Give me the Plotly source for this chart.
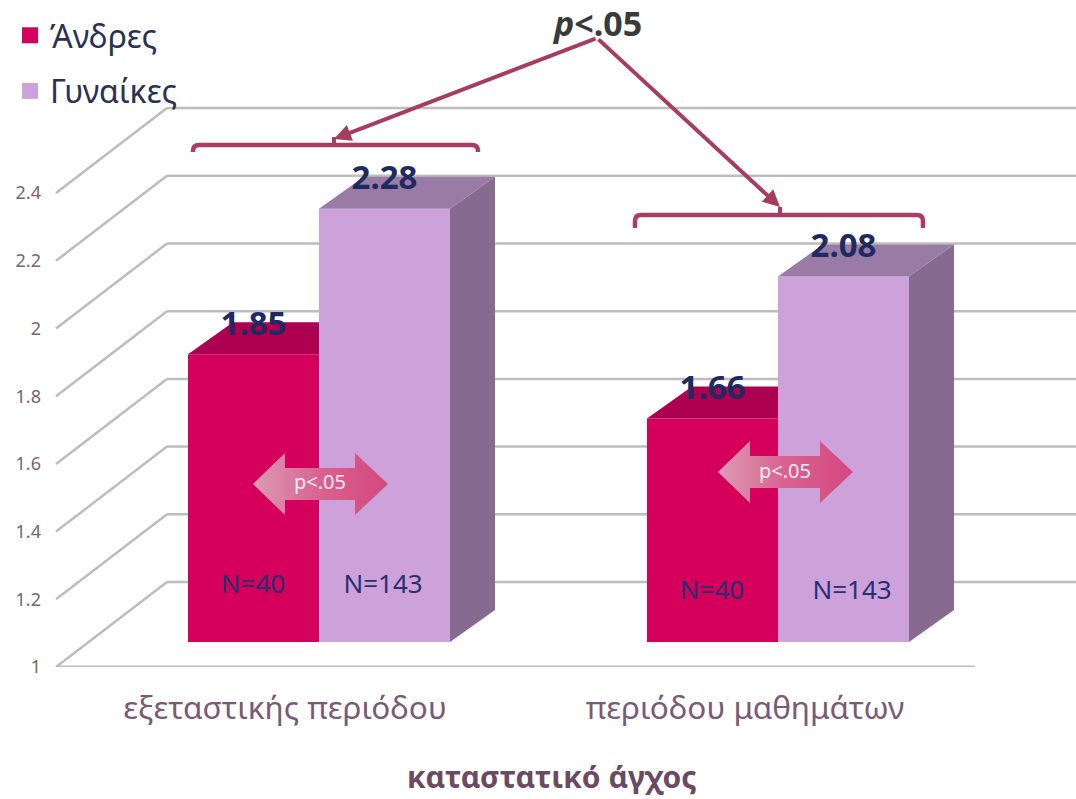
import plotly.graph_objects as go

# ---- data ----
categories = ["εξεταστικής περιόδου", "περιόδου μαθημάτων"]
men_values = [1.85, 1.66]
women_values = [2.28, 2.08]
men_n = ["N=40", "N=40"]
women_n = ["N=143", "N=143"]
y_ticks = [1, 1.2, 1.4, 1.6, 1.8, 2, 2.2, 2.4]
y_tick_labels = ["1", "1.2", "1.4", "1.6", "1.8", "2", "2.2", "2.4"]

W, H = 1076, 799
L, B = 42, 132
FONT = "Noto Sans"
INK = "#1f2a60"
MEN, MEN_TOP = "#d5005c", "#ad0050"
WOMEN, WOMEN_TOP, WOMEN_SIDE = "#cda1da", "#9a7ba6", "#866a90"
ACCENT = "#ab3d60"
GRID = "#bdbdbd"

# scales: px per data unit, used only to build the fake-3D offsets
PX_Y = 338.5
PX_X = 459.0
Y0_PX = H - B          # y=1 on the chart's front edge
X1_PX = 319.0          # x=1 (boundary between the two bars of a group)

def fx(px): return 1 + (px - X1_PX) / PX_X
def fy(py): return 1 + (Y0_PX - py) / PX_Y
dx = lambda px: px / PX_X
dy = lambda px: px / PX_Y

LIFT = dy(25)          # bars stand back from the front edge of the floor
BAR_W = dx(131)
DEPTH_X, DEPTH_Y = dx(45), dy(32)
WALL_X, WALL_Y = fx(167), dy(85)
FRONT_X = fx(56)

fig = go.Figure()

# front faces
groups = [1, 2]
fig.add_bar(x=groups, y=[v - 1 for v in men_values], base=1 + LIFT, marker=dict(color=MEN, line_width=0),
            showlegend=False, hoverinfo="skip")
fig.add_bar(x=groups, y=[v - 1 for v in women_values], base=1 + LIFT, marker=dict(color=WOMEN, line_width=0),
            showlegend=False, hoverinfo="skip")

def poly(xs, ys, color, **kw):
    fig.add_scatter(x=xs, y=ys, mode="lines", fill="toself", fillcolor=color, line=dict(width=0),
                    showlegend=False, hoverinfo="skip", **kw)

# top and side faces
for g, vm, vw in zip(groups, men_values, women_values):
    tm, tw = vm + LIFT, vw + LIFT
    poly([g - BAR_W, g - BAR_W + DEPTH_X, g, g], [tm, tm + DEPTH_Y, tm + DEPTH_Y, tm], MEN_TOP)
    poly([g, g + DEPTH_X, g + BAR_W + DEPTH_X, g + BAR_W], [tw, tw + DEPTH_Y, tw + DEPTH_Y, tw], WOMEN_TOP)
    poly([g + BAR_W, g + BAR_W + DEPTH_X, g + BAR_W + DEPTH_X, g + BAR_W],
         [tw, tw + DEPTH_Y, 1 + LIFT + DEPTH_Y, 1 + LIFT], WOMEN_SIDE)

# gridlines (wall + side wall), below the bars
shapes = []
for t in y_ticks:
    shapes.append(dict(type="line", layer="below", xref="x", yref="y", x0=FRONT_X, y0=t, x1=WALL_X, y1=t + WALL_Y,
                       line=dict(color=GRID, width=2.5)))
    shapes.append(dict(type="line", layer="below", xref="x", yref="y", x0=WALL_X, y0=t + WALL_Y, x1=fx(1076), y1=t + WALL_Y,
                       line=dict(color=GRID, width=2.5)))
shapes.append(dict(type="line", layer="below", xref="x", yref="y", x0=FRONT_X, y0=1, x1=fx(975), y1=1,
                   line=dict(color=GRID, width=3)))

# significance brackets
def bracket(x0, x1, top, drop, tick_x=None):
    r = 6
    p = (f"M {fx(x0)} {fy(top + drop)} L {fx(x0)} {fy(top + r)} Q {fx(x0)} {fy(top)} {fx(x0 + r)} {fy(top)} "
         f"L {fx(x1 - r)} {fy(top)} Q {fx(x1)} {fy(top)} {fx(x1)} {fy(top + r)} L {fx(x1)} {fy(top + drop)}")
    shapes.append(dict(type="path", xref="x", yref="y", path=p, line=dict(color=ACCENT, width=4.5)))
    if tick_x:
        shapes.append(dict(type="line", xref="x", yref="y", x0=fx(tick_x), x1=fx(tick_x), y0=fy(top), y1=fy(top - 8),
                           line=dict(color=ACCENT, width=4)))

bracket(193, 478, 145, 7, 334)
bracket(635, 923, 215, 13, 780)

# double arrows with gradient fill
def double_arrow(cx_left, cy):
    xs = [cx_left, cx_left + 32, cx_left + 32, cx_left + 102, cx_left + 102, cx_left + 135,
          cx_left + 102, cx_left + 102, cx_left + 32, cx_left + 32, cx_left]
    ys = [cy, cy - 31, cy - 16, cy - 16, cy - 31, cy, cy + 31, cy + 16, cy + 16, cy + 31, cy]
    fig.add_scatter(x=[fx(v) for v in xs], y=[fy(v) for v in ys], mode="lines", fill="toself",
                    line=dict(width=0), showlegend=False, hoverinfo="skip",
                    fillgradient=dict(type="horizontal",
                                      colorscale=[[0, "#dc9cb4"], [0.5, "#d8628f"], [1, "#d5487f"]]))

double_arrow(253, 484)
double_arrow(718, 472)

# value labels
bar_cx_m = [g - BAR_W / 2 for g in groups]
bar_cx_w = [g + BAR_W / 2 for g in groups]
fig.add_scatter(x=bar_cx_m + bar_cx_w, y=[v + LIFT + dy(28) for v in men_values + women_values],
                mode="text", text=[f"{v:.2f}" for v in men_values + women_values],
                textfont=dict(family=FONT, size=33, color=INK, weight="bold"),
                textposition="middle center", showlegend=False, hoverinfo="skip")

# N labels
fig.add_scatter(x=[fx(253), fx(712), fx(383), fx(852)], y=[fy(586), fy(592), fy(586), fy(592)],
                mode="text", text=men_n + women_n,
                textfont=dict(family=FONT, size=26, color="#2a2f6e"),
                textposition="middle center", showlegend=False, hoverinfo="skip")

# p<.05 in the double arrows
fig.add_scatter(x=[fx(320), fx(785)], y=[fy(484), fy(473)], mode="text", text=["p<.05", "p<.05"],
                textfont=dict(family=FONT, size=20, color="#fbeaf2"),
                textposition="middle center", showlegend=False, hoverinfo="skip")

# legend
for name, col in (("Άνδρες", MEN), ("Γυναίκες", WOMEN)):
    fig.add_scatter(x=[None], y=[None], mode="markers", name=name, legendgroup=name,
                    marker=dict(symbol="square", size=18, color=col))

annotations = [
    dict(x=fx(597), y=fy(23), xref="x", yref="y", text="<b><i>p</i>&lt;.05</b>", showarrow=False,
         font=dict(family=FONT, size=34, color="#3a3a3a")),
    dict(x=(552 - L) / (W - L), y=(Y0_PX - 776) / Y0_PX, xref="paper", yref="paper", xanchor="center", yanchor="middle",
         text="<b>καταστατικό άγχος</b>", showarrow=False,
         font=dict(family=FONT, size=30, color="#6b4a63")),
    dict(x=fx(334), y=fy(139), ax=fx(597), ay=fy(38), xref="x", yref="y", axref="x", ayref="y", text="",
         showarrow=True, arrowhead=2, arrowsize=0.85, arrowwidth=4, arrowcolor="#a63d5e"),
    dict(x=fx(780), y=fy(207), ax=fx(597), ay=fy(38), xref="x", yref="y", axref="x", ayref="y", text="",
         showarrow=True, arrowhead=2, arrowsize=0.85, arrowwidth=4, arrowcolor="#a63d5e"),
]

fig.update_layout(
    width=W, height=H,
    margin=dict(l=L, r=0, t=0, b=B, autoexpand=False),
    paper_bgcolor="white", plot_bgcolor="white",
    barmode="group", bargap=1 - 2 * BAR_W, bargroupgap=0,
    shapes=shapes, annotations=annotations,
    legend=dict(x=(10 - L) / (W - L), y=1 - 8 / Y0_PX, xanchor="left", yanchor="top", traceorder="grouped",
                tracegroupgap=11, bgcolor="rgba(0,0,0,0)",
                font=dict(family=FONT, size=32, color="#2b3150")),
    xaxis=dict(range=[fx(L), fx(W)], showgrid=False, zeroline=False, showline=False,
               tickmode="array", tickvals=[fx(285), fx(745)], ticktext=categories,
               ticks="outside", ticklen=13, tickcolor="rgba(0,0,0,0)",
               tickfont=dict(family=FONT, size=31.5, color="#7a5a74")),
    yaxis=dict(range=[1, fy(0)], showgrid=False, zeroline=False, showline=False,
               tickmode="array", tickvals=y_ticks, ticktext=y_tick_labels,
               ticks="", tickfont=dict(family=FONT, size=18, color="#7a6570")),
)

fig.write_html("out.html", config={"displayModeBar": False},
               post_script="document.body.style.margin='0';")
